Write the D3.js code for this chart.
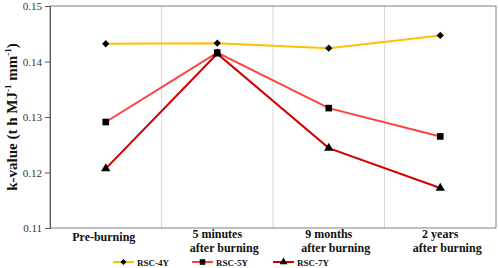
<!DOCTYPE html>
<html><head><meta charset="utf-8">
<script src="https://cdn.jsdelivr.net/npm/d3@7"></script>
<style>html,body{margin:0;padding:0;background:#fff;}svg{display:block;}</style>
</head><body>
<script>
const categories = [["Pre-burning"], ["5 minutes", "after burning"], ["9 months", "after burning"], ["2 years", "after burning"]];
const seriesNames = ["RSC-4Y", "RSC-5Y", "RSC-7Y"];
const rsc4y = [0.1432, 0.1433, 0.1424, 0.1447];
const rsc5y = [0.1291, 0.1416, 0.1316, 0.1265];
const rsc7y = [0.1207, 0.1414, 0.1244, 0.1172];
const yTicks = [0.11, 0.12, 0.13, 0.14, 0.15];

const W = 498, H = 268;
const m = {l: 50, r: 2, t: 6, b: 40};
const svg = d3.select("body").append("svg").attr("width", W).attr("height", H);
const font = "'Liberation Serif','Times New Roman',serif";

const x = d3.scaleBand().domain(d3.range(categories.length)).range([m.l, W - m.r]);
const y = d3.scaleLinear().domain([0.11, 0.15]).range([H - m.b, m.t]);

// vertical gridlines between categories
svg.append("g").selectAll("line").data(d3.range(1, categories.length)).join("line")
  .attr("x1", d => x(d)).attr("x2", d => x(d))
  .attr("y1", y(0.15)).attr("y2", y(0.11))
  .attr("stroke", "#d9d9d9").attr("stroke-width", 1);

// frame
svg.append("rect").attr("x", m.l).attr("y", y(0.15)).attr("width", W - m.r - m.l).attr("height", y(0.11) - y(0.15))
  .attr("fill", "none").attr("stroke", "#7f7f7f").attr("stroke-width", 1);

// y axis
const ya = svg.append("g").attr("transform", `translate(${m.l},0)`)
  .call(d3.axisLeft(y).tickValues(yTicks).tickFormat(d3.format(".2f")).tickSize(5).tickPadding(3));
ya.select(".domain").attr("stroke", "#595959");
ya.selectAll(".tick line").attr("stroke", "#595959");
ya.selectAll(".tick text").attr("font-family", font).attr("font-size", 11).attr("fill", "#333");

// y title
const yt = svg.append("text").attr("transform", `translate(17,${(y(0.15)+y(0.11))/2}) rotate(-90)`)
  .attr("text-anchor", "middle").attr("font-family", font).attr("font-weight", "bold").attr("font-size", 15).attr("fill", "#111");
yt.append("tspan").text("k-value (t h MJ");
yt.append("tspan").attr("font-size", 9).attr("dy", -6).text("-1");
yt.append("tspan").attr("dy", 6).text(" mm");
yt.append("tspan").attr("font-size", 9).attr("dy", -6).text("-1");
yt.append("tspan").attr("dy", 6).text(")");

// category labels
const cl = svg.append("g").selectAll("text").data(categories).join("text")
  .attr("font-family", font).attr("font-weight", "bold").attr("font-size", 12).attr("fill", "#111")
  .attr("text-anchor", "middle");
cl.each(function(d, i) {
  const t = d3.select(this);
  const cx = x(i) + x.bandwidth() / 2;
  if (d.length === 1) {
    t.append("tspan").attr("x", cx - 2).attr("y", 241).text(d[0]);
  } else {
    t.append("tspan").attr("x", cx).attr("y", 238).text(d[0]);
    t.append("tspan").attr("x", cx + 7).attr("y", 252).text(d[1]);
  }
});

const colors = ["#ffc000", "#ff4040", "#d00000"];
const symbols = [d3.symbolDiamond2, d3.symbolSquare, d3.symbolTriangle];
const symSizes = [34, 44, 38];
const data = [rsc4y, rsc5y, rsc7y];

const line = d3.line().x((d, i) => x(i) + x.bandwidth() / 2).y(d => y(d));
data.forEach((s, k) => {
  svg.append("path").datum(s).attr("d", line).attr("fill", "none")
    .attr("stroke", colors[k]).attr("stroke-width", 2);
});
data.forEach((s, k) => {
  svg.append("g").selectAll("path").data(s).join("path")
    .attr("transform", (d, i) => `translate(${x(i) + x.bandwidth() / 2},${y(d)})`)
    .attr("d", d3.symbol().type(symbols[k]).size(symSizes[k])).attr("fill", "#000");
});

// legend
const legX = [113, 192, 273];
const lg = svg.append("g");
seriesNames.forEach((n, k) => {
  const g = lg.append("g").attr("transform", `translate(${legX[k]},262)`);
  g.append("line").attr("x1", 0).attr("x2", 21).attr("y1", 0).attr("y2", 0).attr("stroke", colors[k]).attr("stroke-width", 2);
  g.append("path").attr("transform", "translate(10.5,0)").attr("d", d3.symbol().type(symbols[k]).size(symSizes[k] * 0.7)).attr("fill", "#000");
  g.append("text").attr("x", 24).attr("y", 3.5).attr("font-family", font).attr("font-weight", "bold").attr("font-size", 9).attr("fill", "#111").text(n);
});
</script>
</body></html>
